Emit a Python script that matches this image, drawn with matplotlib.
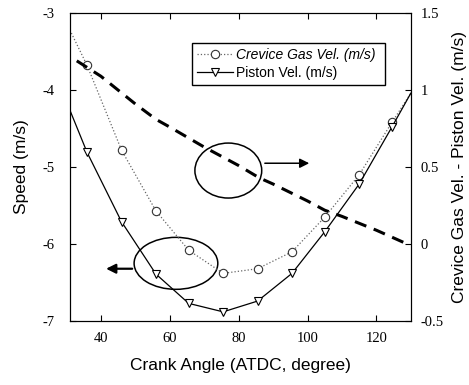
import matplotlib.pyplot as plt
import numpy as np
from matplotlib.patches import Ellipse

# crank angle where the markers sit
angle = [36, 46, 56, 65.5, 75.5, 85.5, 95.5, 105, 115, 124.5]
crevice = [-3.68, -4.78, -5.57, -6.08, -6.38, -6.32, -6.10, -5.65, -5.10, -4.42]
piston = [-4.81, -5.71, -6.39, -6.77, -6.88, -6.74, -6.38, -5.84, -5.22, -4.48]

# curve ends at the axis edges
end_angle = [31, 130]
crevice_end = [-3.22, -4.04]
piston_end = [-4.26, -4.04]

# difference curve (right axis)
diff_angle = [33, 40, 50, 56, 60, 70, 80, 86, 90, 100, 105, 110, 120, 129]
diff = [1.19, 1.09, 0.91, 0.81, 0.76, 0.63, 0.51, 0.43, 0.39, 0.28, 0.22, 0.18, 0.09, 0.0]

plt.rcParams['font.family'] = ['Liberation Sans', 'DejaVu Sans']
plt.rcParams['axes.unicode_minus'] = False

fig = plt.figure(figsize=(4.69, 3.85), dpi=100)
ax = fig.add_axes([0.149, 0.166, 0.727, 0.800])
ax2 = ax.twinx()

ax.plot([end_angle[0]] + angle + [end_angle[1]],
        [crevice_end[0]] + crevice + [crevice_end[1]],
        ls=':', lw=0.9, color='#666666')
ax.plot(angle, crevice, ls='none', marker='o', ms=6, mfc='white',
        mec='#333333', mew=0.8)
ax.plot([end_angle[0]] + angle + [end_angle[1]],
        [piston_end[0]] + piston + [piston_end[1]],
        ls='-', lw=0.9, color='black')
ax.plot(angle, piston, ls='none', marker='v', ms=6, mfc='white',
        mec='black', mew=0.8)

ax2.plot(diff_angle, diff, ls=(0, (4, 2.6)), lw=2.2, color='black')

# legend handles
h1, = ax.plot([], [], ls=':', lw=0.9, color='#666666', marker='o', ms=6,
              mfc='white', mec='#333333', mew=0.8)
h2, = ax.plot([], [], ls='-', lw=0.9, color='black', marker='v', ms=6,
              mfc='white', mec='black', mew=0.8)
leg = ax2.legend([h1, h2], ['Crevice Gas Vel. (m/s)', 'Piston Vel. (m/s)'],
                 loc='upper left', bbox_to_anchor=(0.358, 0.727, 0.566, 0.176),
                 mode='expand', fontsize=10, frameon=True, fancybox=False,
                 handlelength=2.6, handletextpad=0.2, borderpad=0.35,
                 labelspacing=0.3, borderaxespad=0, framealpha=1)
leg.get_frame().set_edgecolor('black')
leg.get_frame().set_linewidth(1.0)
leg.get_texts()[0].set_fontstyle('italic')

# ellipses and arrows
ax.add_patch(Ellipse((77.0, -5.045), 19.4, 0.714, fill=False, ec='black', lw=1.1))
ax.annotate('', xy=(101.3, -4.95), xytext=(86.8, -4.95),
            arrowprops=dict(arrowstyle='-|>', color='black', lw=1.1,
                            mutation_scale=14))
ax.add_patch(Ellipse((61.8, -6.25), 24.3, 0.675, fill=False, ec='black', lw=1.1))
ax.annotate('', xy=(40.7, -6.32), xytext=(49.9, -6.32),
            arrowprops=dict(arrowstyle='-|>', color='black', lw=1.6,
                            mutation_scale=14))

ax.set_xlim(31, 130)
ax.set_ylim(-7, -3)
ax2.set_ylim(-0.5, 1.5)
ax.set_xticks([40, 60, 80, 100, 120])
ax.set_yticks([-7, -6, -5, -4, -3])
ax2.set_yticks([-0.5, 0, 0.5, 1, 1.5])
ax2.set_yticklabels(['-0.5', '0', '0.5', '1', '1.5'])

for a in (ax, ax2):
    a.tick_params(direction='in', length=4, width=0.8, labelsize=10.5,
                  labelfontfamily='Liberation Serif')
    for s in a.spines.values():
        s.set_linewidth(0.8)
ax.tick_params(axis='x', top=True, pad=8)
ax.tick_params(axis='y', pad=11)
ax2.tick_params(axis='y', pad=7)

ax.set_xlabel('Crank Angle (ATDC, degree)', fontsize=12.5, labelpad=9)
ax.set_ylabel('Speed (m/s)', fontsize=12.5, labelpad=10)
ax2.set_ylabel('Crevice Gas Vel. - Piston Vel. (m/s)', fontsize=12.5, labelpad=6)

fig.savefig('out.png', dpi=100)
